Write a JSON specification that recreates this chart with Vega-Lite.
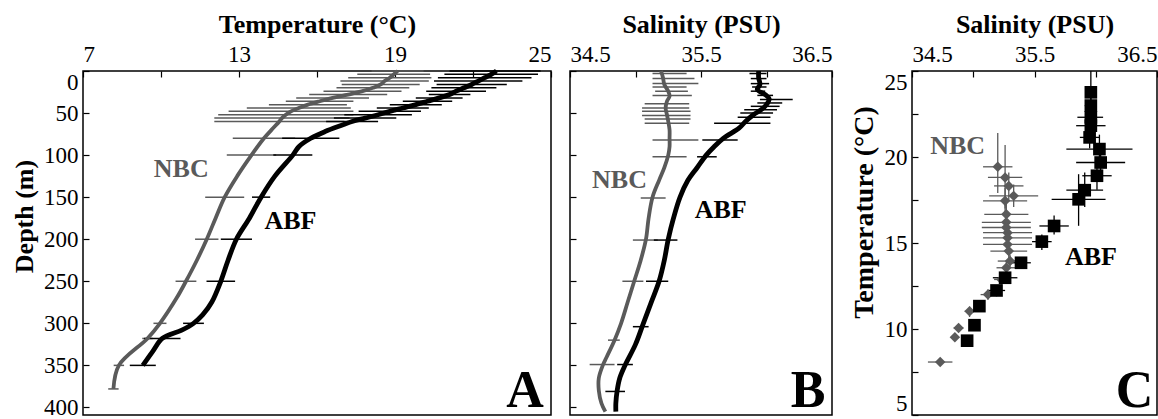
{
 "$schema": "https://vega.github.io/schema/vega-lite/v6.json",
 "padding": {"left": 10, "top": 10, "right": 2, "bottom": 0},
 "background": "white",
 "spacing": 15,
 "config": {
  "font": "Liberation Serif",
  "view": {"stroke": "black", "strokeWidth": 1.5},
  "axis": {"domain": false, "grid": false, "tickSize": -6, "tickColor": "black", "tickWidth": 1.2,
   "labelFont": "Liberation Serif", "labelFontSize": 23, "labelColor": "black", "labelPadding": 11, "labelOverlap": false, "labelBound": false,
   "titleFont": "Liberation Serif", "titleFontSize": 26, "titleFontWeight": "bold", "titleColor": "black", "titlePadding": 6, "minExtent": 0},
  "text": {"font": "Liberation Serif"}
 },
 "datasets": {
  "tLine": [
   {"mass":"NBC","depth":0,"temp":19.1},{"mass":"NBC","depth":4,"temp":18.95},{"mass":"NBC","depth":8,"temp":18.8},{"mass":"NBC","depth":12,"temp":18.6},{"mass":"NBC","depth":16,"temp":18.45},{"mass":"NBC","depth":20,"temp":18.15},{"mass":"NBC","depth":24,"temp":17.75},{"mass":"NBC","depth":28,"temp":17.2},{"mass":"NBC","depth":32,"temp":16.6},{"mass":"NBC","depth":36,"temp":16.1},{"mass":"NBC","depth":40,"temp":15.65},{"mass":"NBC","depth":44,"temp":15.3},{"mass":"NBC","depth":48,"temp":15.0},{"mass":"NBC","depth":52,"temp":14.8},{"mass":"NBC","depth":56,"temp":14.65},{"mass":"NBC","depth":60,"temp":14.55},{"mass":"NBC","depth":70,"temp":14.25},{"mass":"NBC","depth":80,"temp":13.96},{"mass":"NBC","depth":100,"temp":13.48},{"mass":"NBC","depth":125,"temp":12.93},{"mass":"NBC","depth":150,"temp":12.45},{"mass":"NBC","depth":175,"temp":12.1},{"mass":"NBC","depth":200,"temp":11.76},{"mass":"NBC","depth":225,"temp":11.38},{"mass":"NBC","depth":250,"temp":10.96},{"mass":"NBC","depth":270,"temp":10.6},{"mass":"NBC","depth":300,"temp":9.96},{"mass":"NBC","depth":318,"temp":9.48},{"mass":"NBC","depth":350,"temp":8.38},{"mass":"NBC","depth":378,"temp":8.17},
   {"mass":"ABF","depth":0,"temp":22.9},{"mass":"ABF","depth":4,"temp":22.7},{"mass":"ABF","depth":8,"temp":22.45},{"mass":"ABF","depth":12,"temp":22.2},{"mass":"ABF","depth":16,"temp":21.95},{"mass":"ABF","depth":20,"temp":21.65},{"mass":"ABF","depth":24,"temp":21.35},{"mass":"ABF","depth":28,"temp":21.1},{"mass":"ABF","depth":32,"temp":20.7},{"mass":"ABF","depth":36,"temp":20.25},{"mass":"ABF","depth":40,"temp":19.8},{"mass":"ABF","depth":44,"temp":19.3},{"mass":"ABF","depth":48,"temp":18.8},{"mass":"ABF","depth":52,"temp":18.35},{"mass":"ABF","depth":56,"temp":17.85},{"mass":"ABF","depth":60,"temp":17.35},{"mass":"ABF","depth":64,"temp":17.0},{"mass":"ABF","depth":72,"temp":16.31},{"mass":"ABF","depth":80,"temp":15.76},{"mass":"ABF","depth":90,"temp":15.3},{"mass":"ABF","depth":100,"temp":15.07},{"mass":"ABF","depth":125,"temp":14.38},{"mass":"ABF","depth":150,"temp":13.85},{"mass":"ABF","depth":175,"temp":13.4},{"mass":"ABF","depth":200,"temp":12.9},{"mass":"ABF","depth":225,"temp":12.58},{"mass":"ABF","depth":250,"temp":12.3},{"mass":"ABF","depth":275,"temp":11.95},{"mass":"ABF","depth":290,"temp":11.6},{"mass":"ABF","depth":300,"temp":11.25},{"mass":"ABF","depth":308,"temp":10.8},{"mass":"ABF","depth":318,"temp":10.05},{"mass":"ABF","depth":333,"temp":9.69},{"mass":"ABF","depth":350,"temp":9.3}
  ],
  "tErr": [
   {"mass":"NBC","depth":0,"lo":18.1,"hi":20.1},{"mass":"NBC","depth":4,"lo":17.55,"hi":20.35},{"mass":"NBC","depth":8,"lo":17.2,"hi":20.4},{"mass":"NBC","depth":12,"lo":16.9,"hi":20.3},{"mass":"NBC","depth":16,"lo":16.95,"hi":19.95},{"mass":"NBC","depth":20,"lo":16.75,"hi":19.55},{"mass":"NBC","depth":24,"lo":16.25,"hi":19.25},{"mass":"NBC","depth":28,"lo":15.7,"hi":18.7},{"mass":"NBC","depth":32,"lo":15.2,"hi":18.0},{"mass":"NBC","depth":36,"lo":14.8,"hi":17.4},{"mass":"NBC","depth":40,"lo":14.15,"hi":17.15},{"mass":"NBC","depth":44,"lo":13.3,"hi":17.3},{"mass":"NBC","depth":48,"lo":12.6,"hi":17.4},{"mass":"NBC","depth":52,"lo":12.2,"hi":17.4},{"mass":"NBC","depth":56,"lo":12.05,"hi":17.25},{"mass":"NBC","depth":60,"lo":12.05,"hi":17.05},{"mass":"NBC","depth":80,"lo":12.76,"hi":15.16},{"mass":"NBC","depth":100,"lo":12.53,"hi":14.43},{"mass":"NBC","depth":150,"lo":11.7,"hi":13.2},{"mass":"NBC","depth":200,"lo":11.31,"hi":12.21},{"mass":"NBC","depth":250,"lo":10.56,"hi":11.36},{"mass":"NBC","depth":300,"lo":9.71,"hi":10.21},{"mass":"NBC","depth":318,"lo":9.28,"hi":9.68},{"mass":"NBC","depth":350,"lo":8.18,"hi":8.58},{"mass":"NBC","depth":378,"lo":7.97,"hi":8.37},
   {"mass":"ABF","depth":0,"lo":21.1,"hi":24.6},{"mass":"ABF","depth":4,"lo":20.9,"hi":24.5},{"mass":"ABF","depth":8,"lo":20.65,"hi":24.25},{"mass":"ABF","depth":12,"lo":20.5,"hi":23.9},{"mass":"ABF","depth":16,"lo":20.6,"hi":23.3},{"mass":"ABF","depth":20,"lo":20.4,"hi":22.9},{"mass":"ABF","depth":24,"lo":20.2,"hi":22.5},{"mass":"ABF","depth":28,"lo":20.3,"hi":21.9},{"mass":"ABF","depth":32,"lo":19.8,"hi":21.6},{"mass":"ABF","depth":36,"lo":19.3,"hi":21.2},{"mass":"ABF","depth":40,"lo":18.8,"hi":20.8},{"mass":"ABF","depth":44,"lo":18.3,"hi":20.3},{"mass":"ABF","depth":48,"lo":17.6,"hi":20.0},{"mass":"ABF","depth":52,"lo":17.05,"hi":19.65},{"mass":"ABF","depth":56,"lo":16.65,"hi":19.05},{"mass":"ABF","depth":60,"lo":16.35,"hi":18.35},{"mass":"ABF","depth":80,"lo":14.66,"hi":16.86},{"mass":"ABF","depth":100,"lo":14.32,"hi":15.82},{"mass":"ABF","depth":150,"lo":13.5,"hi":14.2},{"mass":"ABF","depth":200,"lo":12.3,"hi":13.5},{"mass":"ABF","depth":250,"lo":11.75,"hi":12.85},{"mass":"ABF","depth":300,"lo":10.85,"hi":11.65},{"mass":"ABF","depth":318,"lo":9.35,"hi":10.75},{"mass":"ABF","depth":350,"lo":8.8,"hi":9.8}
  ],
  "sLine": [
   {"mass":"NBC","depth":0,"sal":35.195},{"mass":"NBC","depth":8,"sal":35.21},{"mass":"NBC","depth":16,"sal":35.22},{"mass":"NBC","depth":24,"sal":35.25},{"mass":"NBC","depth":30,"sal":35.26},{"mass":"NBC","depth":36,"sal":35.24},{"mass":"NBC","depth":44,"sal":35.23},{"mass":"NBC","depth":52,"sal":35.24},{"mass":"NBC","depth":60,"sal":35.25},{"mass":"NBC","depth":70,"sal":35.26},{"mass":"NBC","depth":80,"sal":35.26},{"mass":"NBC","depth":90,"sal":35.26},{"mass":"NBC","depth":100,"sal":35.25},{"mass":"NBC","depth":115,"sal":35.22},{"mass":"NBC","depth":130,"sal":35.18},{"mass":"NBC","depth":150,"sal":35.13},{"mass":"NBC","depth":175,"sal":35.1},{"mass":"NBC","depth":200,"sal":35.08},{"mass":"NBC","depth":225,"sal":35.04},{"mass":"NBC","depth":250,"sal":34.99},{"mass":"NBC","depth":275,"sal":34.94},{"mass":"NBC","depth":300,"sal":34.89},{"mass":"NBC","depth":320,"sal":34.84},{"mass":"NBC","depth":340,"sal":34.78},{"mass":"NBC","depth":350,"sal":34.75},{"mass":"NBC","depth":365,"sal":34.72},{"mass":"NBC","depth":380,"sal":34.72},{"mass":"NBC","depth":395,"sal":34.74},{"mass":"NBC","depth":405,"sal":34.77},
   {"mass":"ABF","depth":0,"sal":35.94},{"mass":"ABF","depth":8,"sal":35.94},{"mass":"ABF","depth":16,"sal":35.95},{"mass":"ABF","depth":22,"sal":35.93},{"mass":"ABF","depth":28,"sal":35.99},{"mass":"ABF","depth":33,"sal":36.02},{"mass":"ABF","depth":40,"sal":36.0},{"mass":"ABF","depth":46,"sal":35.96},{"mass":"ABF","depth":52,"sal":35.9},{"mass":"ABF","depth":60,"sal":35.84},{"mass":"ABF","depth":68,"sal":35.79},{"mass":"ABF","depth":80,"sal":35.67},{"mass":"ABF","depth":90,"sal":35.6},{"mass":"ABF","depth":100,"sal":35.54},{"mass":"ABF","depth":115,"sal":35.47},{"mass":"ABF","depth":130,"sal":35.4},{"mass":"ABF","depth":150,"sal":35.34},{"mass":"ABF","depth":175,"sal":35.29},{"mass":"ABF","depth":200,"sal":35.25},{"mass":"ABF","depth":225,"sal":35.22},{"mass":"ABF","depth":250,"sal":35.18},{"mass":"ABF","depth":275,"sal":35.12},{"mass":"ABF","depth":300,"sal":35.06},{"mass":"ABF","depth":325,"sal":35.0},{"mass":"ABF","depth":350,"sal":34.92},{"mass":"ABF","depth":365,"sal":34.88},{"mass":"ABF","depth":380,"sal":34.86},{"mass":"ABF","depth":395,"sal":34.85},{"mass":"ABF","depth":405,"sal":34.85}
  ],
  "sErr": [
   {"mass":"NBC","depth":3,"lo":35.13,"hi":35.39},{"mass":"NBC","depth":9,"lo":35.13,"hi":35.45},{"mass":"NBC","depth":15,"lo":35.13,"hi":35.48},{"mass":"NBC","depth":19,"lo":35.13,"hi":35.39},{"mass":"NBC","depth":24,"lo":35.15,"hi":35.4},{"mass":"NBC","depth":29,"lo":35.13,"hi":35.43},{"mass":"NBC","depth":39,"lo":35.07,"hi":35.41},{"mass":"NBC","depth":44,"lo":35.05,"hi":35.41},{"mass":"NBC","depth":48,"lo":35.05,"hi":35.42},{"mass":"NBC","depth":53,"lo":35.05,"hi":35.42},{"mass":"NBC","depth":57,"lo":35.07,"hi":35.42},{"mass":"NBC","depth":62,"lo":35.07,"hi":35.41},{"mass":"NBC","depth":82,"lo":35.13,"hi":35.48},{"mass":"NBC","depth":102,"lo":35.13,"hi":35.39},{"mass":"NBC","depth":151,"lo":35.04,"hi":35.23},{"mass":"NBC","depth":201,"lo":34.98,"hi":35.17},{"mass":"NBC","depth":250,"lo":34.9,"hi":35.06},{"mass":"NBC","depth":320,"lo":34.79,"hi":34.88},{"mass":"NBC","depth":349,"lo":34.65,"hi":34.84},
   {"mass":"ABF","depth":3,"lo":35.87,"hi":36.0},{"mass":"ABF","depth":9,"lo":35.88,"hi":36.0},{"mass":"ABF","depth":15,"lo":35.88,"hi":36.02},{"mass":"ABF","depth":19,"lo":35.89,"hi":36.0},{"mass":"ABF","depth":24,"lo":35.88,"hi":35.99},{"mass":"ABF","depth":29,"lo":35.93,"hi":36.05},{"mass":"ABF","depth":34,"lo":35.95,"hi":36.2},{"mass":"ABF","depth":38,"lo":35.93,"hi":36.12},{"mass":"ABF","depth":42,"lo":35.88,"hi":36.1},{"mass":"ABF","depth":46,"lo":35.83,"hi":36.08},{"mass":"ABF","depth":50,"lo":35.8,"hi":36.05},{"mass":"ABF","depth":55,"lo":35.78,"hi":36.03},{"mass":"ABF","depth":62,"lo":35.6,"hi":36.03},{"mass":"ABF","depth":82,"lo":35.51,"hi":35.78},{"mass":"ABF","depth":102,"lo":35.47,"hi":35.62},{"mass":"ABF","depth":201,"lo":35.14,"hi":35.32},{"mass":"ABF","depth":250,"lo":35.08,"hi":35.25},{"mass":"ABF","depth":304,"lo":34.98,"hi":35.1},{"mass":"ABF","depth":349,"lo":34.86,"hi":34.98},{"mass":"ABF","depth":381,"lo":34.77,"hi":34.92}
  ],
  "ts": [
   {"mass":"NBC","sal":35.2,"temp":19.43,"slo":35.08,"shi":35.32,"tlo":17.9,"thi":21.4},
   {"mass":"NBC","sal":35.26,"temp":18.81,"slo":35.12,"shi":35.4,"tlo":17.0,"thi":20.7},
   {"mass":"NBC","sal":35.29,"temp":18.32,"slo":35.17,"shi":35.41,"tlo":17.5,"thi":19.1},
   {"mass":"NBC","sal":35.33,"temp":17.74,"slo":35.13,"shi":35.53,"tlo":17.1,"thi":18.4},
   {"mass":"NBC","sal":35.26,"temp":17.45,"slo":35.08,"shi":35.44,"tlo":16.7,"thi":18.2},
   {"mass":"NBC","sal":35.27,"temp":16.67,"slo":35.09,"shi":35.45,"tlo":16.0,"thi":17.4},
   {"mass":"NBC","sal":35.27,"temp":16.2,"slo":35.07,"shi":35.47,"tlo":15.6,"thi":16.8},
   {"mass":"NBC","sal":35.27,"temp":15.9,"slo":35.07,"shi":35.47,"tlo":15.3,"thi":16.5},
   {"mass":"NBC","sal":35.28,"temp":15.6,"slo":35.08,"shi":35.48,"tlo":15.1,"thi":16.1},
   {"mass":"NBC","sal":35.28,"temp":15.3,"slo":35.08,"shi":35.48,"tlo":14.8,"thi":15.8},
   {"mass":"NBC","sal":35.28,"temp":14.92,"slo":35.08,"shi":35.48,"tlo":14.4,"thi":15.4},
   {"mass":"NBC","sal":35.29,"temp":14.53,"slo":35.14,"shi":35.44,"tlo":14.1,"thi":14.9},
   {"mass":"NBC","sal":35.3,"temp":13.95,"slo":35.2,"shi":35.4,"tlo":13.6,"thi":14.3},
   {"mass":"NBC","sal":35.27,"temp":13.56,"slo":35.19,"shi":35.35,"tlo":13.2,"thi":13.9},
   {"mass":"NBC","sal":35.23,"temp":12.88,"slo":35.17,"shi":35.29,"tlo":12.6,"thi":13.2},
   {"mass":"NBC","sal":35.12,"temp":12.0,"slo":35.06,"shi":35.18,"tlo":11.7,"thi":12.3},
   {"mass":"NBC","sal":34.97,"temp":11.03,"slo":34.93,"shi":35.01,"tlo":10.7,"thi":11.3},
   {"mass":"NBC","sal":34.88,"temp":10.06,"slo":34.84,"shi":34.92,"tlo":9.85,"thi":10.3},
   {"mass":"NBC","sal":34.85,"temp":9.52,"slo":34.82,"shi":34.88,"tlo":9.3,"thi":9.75},
   {"mass":"NBC","sal":34.73,"temp":8.08,"slo":34.63,"shi":34.83,"tlo":7.95,"thi":8.25},
   {"mass":"ABF","sal":35.96,"temp":23.76,"slo":35.94,"shi":35.98,"tlo":22.9,"thi":25.0},
   {"mass":"ABF","sal":35.96,"temp":22.99,"slo":35.91,"shi":36.01,"tlo":22.5,"thi":23.5},
   {"mass":"ABF","sal":35.96,"temp":22.31,"slo":35.85,"shi":36.06,"tlo":21.9,"thi":22.7},
   {"mass":"ABF","sal":35.96,"temp":21.82,"slo":35.84,"shi":36.08,"tlo":21.2,"thi":22.4},
   {"mass":"ABF","sal":35.95,"temp":21.14,"slo":35.87,"shi":36.03,"tlo":20.5,"thi":21.8},
   {"mass":"ABF","sal":36.03,"temp":20.46,"slo":35.76,"shi":36.3,"tlo":19.6,"thi":21.3},
   {"mass":"ABF","sal":36.04,"temp":19.68,"slo":35.84,"shi":36.24,"tlo":18.9,"thi":20.5},
   {"mass":"ABF","sal":36.01,"temp":18.91,"slo":35.89,"shi":36.13,"tlo":18.1,"thi":19.7},
   {"mass":"ABF","sal":35.91,"temp":18.07,"slo":35.76,"shi":36.06,"tlo":17.1,"thi":19.1},
   {"mass":"ABF","sal":35.86,"temp":17.54,"slo":35.64,"shi":36.08,"tlo":16.0,"thi":19.0},
   {"mass":"ABF","sal":35.66,"temp":15.99,"slo":35.54,"shi":35.78,"tlo":15.5,"thi":16.6},
   {"mass":"ABF","sal":35.56,"temp":15.08,"slo":35.48,"shi":35.64,"tlo":14.6,"thi":15.5},
   {"mass":"ABF","sal":35.39,"temp":13.85,"slo":35.31,"shi":35.47,"tlo":13.65,"thi":14.05},
   {"mass":"ABF","sal":35.26,"temp":12.98,"slo":35.16,"shi":35.36,"tlo":12.7,"thi":13.3},
   {"mass":"ABF","sal":35.19,"temp":12.24,"slo":35.12,"shi":35.26,"tlo":11.9,"thi":12.55},
   {"mass":"ABF","sal":35.05,"temp":11.33,"slo":35.01,"shi":35.09,"tlo":11.1,"thi":11.55},
   {"mass":"ABF","sal":35.01,"temp":10.22,"slo":34.98,"shi":35.04,"tlo":9.9,"thi":10.5},
   {"mass":"ABF","sal":34.95,"temp":9.32,"slo":34.92,"shi":34.98,"tlo":9.0,"thi":9.6}
  ],
  "labA": [{"mass":"NBC","x":10.78,"y":116,"label":"NBC"},{"mass":"ABF","x":14.98,"y":178,"label":"ABF"}],
  "labB": [{"mass":"NBC","x":34.878,"y":129.6,"label":"NBC"},{"mass":"ABF","x":35.65,"y":165.2,"label":"ABF"}],
  "labC": [{"mass":"NBC","x":34.873,"y":20.62,"label":"NBC"},{"mass":"ABF","x":35.961,"y":14.17,"label":"ABF"}],
  "letters": [{"panel":"A","x":24.72,"y":400,"letter":"A"},{"panel":"B","x":36.45,"y":400,"letter":"B"},{"panel":"C","x":36.47,"y":5.45,"letter":"C"}]
 },
 "hconcat": [
  {
   "width": 468, "height": 344,
   "layer": [
    {"data": {"name": "tErr"}, "mark": {"type": "rule", "strokeWidth": 1.5},
     "encoding": {
      "x": {"field": "lo", "type": "quantitative", "scale": {"domain": [7, 25], "nice": false, "zero": false},
       "axis": {"orient": "top", "title": "Temperature (°C)", "values": [7,8.5,10,11.5,13,14.5,16,17.5,19,20.5,22,23.5,25], "labelExpr": "datum.value % 6 === 1 ? datum.label : ''", "labelFlush": true}},
      "x2": {"field": "hi"},
      "y": {"field": "depth", "type": "quantitative", "scale": {"domain": [0, 409], "reverse": true, "nice": false, "zero": false},
       "axis": {"title": "Depth (m)", "titleY": 145, "labelFlush": true, "values": [0,25,50,75,100,125,150,175,200,225,250,275,300,325,350,375,400], "labelExpr": "datum.value % 50 === 0 ? datum.label : ''"}},
      "color": {"field": "mass", "type": "nominal", "scale": {"domain": ["NBC","ABF"], "range": ["#5a5a5a", "#000000"]}, "legend": null}
     }},
    {"data": {"name": "tLine"}, "mark": {"type": "line", "interpolate": "catmull-rom"},
     "encoding": {
      "x": {"field": "temp", "type": "quantitative"},
      "y": {"field": "depth", "type": "quantitative"},
      "order": {"field": "depth", "type": "quantitative"},
      "color": {"field": "mass", "type": "nominal", "legend": null},
      "strokeWidth": {"field": "mass", "type": "nominal", "scale": {"domain": ["NBC","ABF"], "range": [3.8, 4.8]}, "legend": null}
     }},
    {"data": {"name": "labA"}, "mark": {"type": "text", "fontSize": 26, "fontWeight": "bold", "baseline": "middle"},
     "encoding": {
      "x": {"field": "x", "type": "quantitative"},
      "y": {"field": "y", "type": "quantitative"},
      "text": {"field": "label"},
      "color": {"field": "mass", "type": "nominal", "legend": null}
     }},
    {"data": {"name": "letters"}, "transform": [{"filter": "datum.panel === 'A'"}],
     "mark": {"type": "text", "fontSize": 52, "fontWeight": "bold", "align": "right", "baseline": "alphabetic", "color": "black"},
     "encoding": {
      "x": {"field": "x", "type": "quantitative"},
      "y": {"field": "y", "type": "quantitative"},
      "text": {"field": "letter"}
     }}
   ]
  },
  {
   "width": 262, "height": 344,
   "layer": [
    {"data": {"name": "sErr"}, "mark": {"type": "rule", "strokeWidth": 1.5},
     "encoding": {
      "x": {"field": "lo", "type": "quantitative", "scale": {"domain": [34.5, 36.5], "nice": false, "zero": false},
       "axis": {"orient": "top", "title": "Salinity (PSU)", "format": ".1f", "values": [34.5,34.75,35,35.25,35.5,35.75,36,36.25,36.5], "labelExpr": "(datum.value*4) % 4 === 2 ? datum.label : ''", "labelFlush": true}},
      "x2": {"field": "hi"},
      "y": {"field": "depth", "type": "quantitative", "scale": {"domain": [0, 409], "reverse": true, "nice": false, "zero": false},
       "axis": {"title": null, "labels": false, "values": [0,25,50,75,100,125,150,175,200,225,250,275,300,325,350,375,400]}},
      "color": {"field": "mass", "type": "nominal", "scale": {"domain": ["NBC","ABF"], "range": ["#5a5a5a", "#000000"]}, "legend": null}
     }},
    {"data": {"name": "sLine"}, "mark": {"type": "line", "interpolate": "catmull-rom"},
     "encoding": {
      "x": {"field": "sal", "type": "quantitative"},
      "y": {"field": "depth", "type": "quantitative"},
      "order": {"field": "depth", "type": "quantitative"},
      "color": {"field": "mass", "type": "nominal", "legend": null},
      "strokeWidth": {"field": "mass", "type": "nominal", "scale": {"domain": ["NBC","ABF"], "range": [3.8, 4.8]}, "legend": null}
     }},
    {"data": {"name": "labB"}, "mark": {"type": "text", "fontSize": 26, "fontWeight": "bold", "baseline": "middle"},
     "encoding": {
      "x": {"field": "x", "type": "quantitative"},
      "y": {"field": "y", "type": "quantitative"},
      "text": {"field": "label"},
      "color": {"field": "mass", "type": "nominal", "legend": null}
     }},
    {"data": {"name": "letters"}, "transform": [{"filter": "datum.panel === 'B'"}],
     "mark": {"type": "text", "fontSize": 52, "fontWeight": "bold", "align": "right", "baseline": "alphabetic", "color": "black"},
     "encoding": {
      "x": {"field": "x", "type": "quantitative"},
      "y": {"field": "y", "type": "quantitative"},
      "text": {"field": "letter"}
     }}
   ]
  },
  {
   "width": 245, "height": 344,
   "layer": [
    {"data": {"name": "ts"}, "mark": {"type": "rule", "strokeWidth": 1.3},
     "encoding": {
      "x": {"field": "slo", "type": "quantitative", "scale": {"domain": [34.5, 36.5], "nice": false, "zero": false},
       "axis": {"orient": "top", "title": "Salinity (PSU)", "format": ".1f", "values": [34.5,34.75,35,35.25,35.5,35.75,36,36.25,36.5], "labelExpr": "(datum.value*4) % 4 === 2 ? datum.label : ''", "labelFlush": true}},
      "x2": {"field": "shi"},
      "y": {"field": "temp", "type": "quantitative", "scale": {"domain": [5, 25], "nice": false, "zero": false},
       "axis": {"title": "Temperature (°C)", "titleFontSize": 28, "titleY": 141, "labelFlush": true, "values": [5,7.5,10,12.5,15,17.5,20,22.5,25], "labelExpr": "datum.value % 5 === 0 ? datum.label : ''"}},
      "color": {"field": "mass", "type": "nominal", "scale": {"domain": ["NBC","ABF"], "range": ["#5a5a5a", "#000000"]}, "legend": null}
     }},
    {"data": {"name": "ts"}, "mark": {"type": "rule", "strokeWidth": 1.3},
     "encoding": {
      "x": {"field": "sal", "type": "quantitative"},
      "y": {"field": "tlo", "type": "quantitative"},
      "y2": {"field": "thi"},
      "color": {"field": "mass", "type": "nominal", "legend": null}
     }},
    {"data": {"name": "ts"}, "mark": {"type": "point", "filled": true, "opacity": 1},
     "encoding": {
      "x": {"field": "sal", "type": "quantitative"},
      "y": {"field": "temp", "type": "quantitative"},
      "shape": {"field": "mass", "type": "nominal", "scale": {"domain": ["NBC","ABF"], "range": ["diamond", "square"]}, "legend": null},
      "size": {"field": "mass", "type": "nominal", "scale": {"domain": ["NBC","ABF"], "range": [110, 160]}, "legend": null},
      "color": {"field": "mass", "type": "nominal", "legend": null}
     }},
    {"data": {"name": "labC"}, "mark": {"type": "text", "fontSize": 26, "fontWeight": "bold", "baseline": "middle"},
     "encoding": {
      "x": {"field": "x", "type": "quantitative"},
      "y": {"field": "y", "type": "quantitative"},
      "text": {"field": "label"},
      "color": {"field": "mass", "type": "nominal", "legend": null}
     }},
    {"data": {"name": "letters"}, "transform": [{"filter": "datum.panel === 'C'"}],
     "mark": {"type": "text", "fontSize": 52, "fontWeight": "bold", "align": "right", "baseline": "alphabetic", "color": "black"},
     "encoding": {
      "x": {"field": "x", "type": "quantitative"},
      "y": {"field": "y", "type": "quantitative"},
      "text": {"field": "letter"}
     }}
   ]
  }
 ]
}
